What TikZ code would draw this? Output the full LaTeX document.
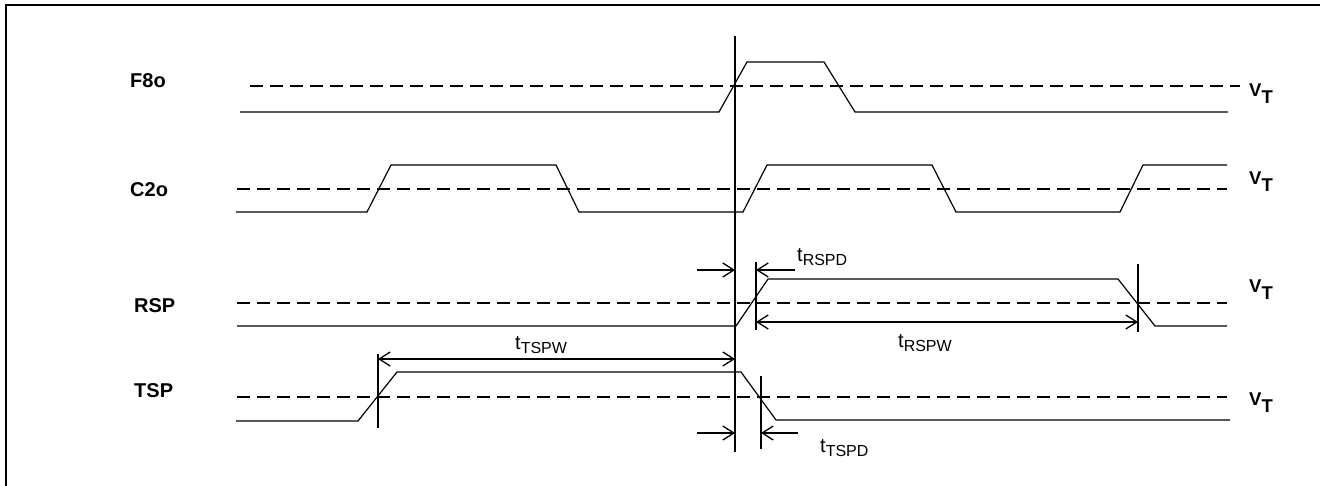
\documentclass[tikz,border=0pt]{standalone}
\usepackage{fontspec}
\setmainfont{Liberation Sans}
\usetikzlibrary{arrows.meta}
\tikzset{>={Straight Barb[length=11pt, width=14pt, line width=1.3pt]}}
\tikzstyle{signal}=[line width=1.2pt]
\tikzstyle{threshold}=[line width=1.8pt, dash pattern=on 13pt off 7pt]
\tikzstyle{marker}=[line width=1.8pt]
\tikzstyle{dimension}=[line width=1.8pt, ->]
\tikzstyle{span}=[line width=1.8pt, <->]
\tikzstyle{signal name}=[anchor=west, inner sep=0, font=\fontsize{20}{22}\selectfont\bfseries]
\tikzstyle{level name}=[anchor=base west, inner sep=0, font=\fontsize{18.5}{20}\selectfont\bfseries]
\tikzstyle{timing}=[anchor=base west, inner sep=0, font=\fontsize{20}{22}\selectfont]
\newcommand{\vth}{V\raisebox{-7pt}{T}}
\newcommand{\tsub}[1]{t\raisebox{-4pt}{\fontsize{16}{18}\selectfont #1}}

\begin{document}
\begin{tikzpicture}[x=1pt, y=-1pt]
      \useasboundingbox (0,0) rectangle (1320,486);
      \draw[line width=2pt] (6,486) -- (6,5) -- (1320,5);

      \node[signal name] (f8o) at (130,81) {F8o};
      \node[signal name] (c2o) at (130,190) {C2o};
      \node[signal name] (rsp) at (134,306) {RSP};
      \node[signal name] (tsp) at (134,391) {TSP};

      \draw[threshold] (250,86) -- (1240,86);
      \draw[threshold] (237,189) -- (1227,189);
      \draw[threshold] (237,303) -- (1227,303);
      \draw[threshold] (237,397) -- (1227,397);

      \node[level name] (vt_f8o) at (1249,97) {\vth};
      \node[level name] (vt_c2o) at (1249,185) {\vth};
      \node[level name] (vt_rsp) at (1249,293) {\vth};
      \node[level name] (vt_tsp) at (1249,405) {\vth};

      \draw[signal] (240,112) -- (719,112) -- (747,62) -- (824,62)
        -- (855,112) -- (1228,112);
      \draw[signal] (236,212) -- (367,212) -- (391,165) -- (556,165)
        -- (579,212) -- (743,212) -- (767,165) -- (932,165)
        -- (956,212) -- (1120,212) -- (1143,165) -- (1227,165);
      \draw[signal] (237,326) -- (736,326) -- (768,279) -- (1118,279)
        -- (1155,326) -- (1227,326);
      \draw[signal] (236,421) -- (358,421) -- (397,372) -- (741,372)
        -- (776,420) -- (1230,420);

      \coordinate (ref_top) at (735,36);
      \coordinate (ref_bottom) at (735,452);
      \coordinate (rspd_top) at (756,262);
      \coordinate (rspd_bottom) at (756,330);
      \coordinate (rspw_top) at (1138,264);
      \coordinate (rspw_bottom) at (1138,332);
      \coordinate (tspw_top) at (378,354);
      \coordinate (tspw_bottom) at (378,428);
      \coordinate (tspd_top) at (761,376);
      \coordinate (tspd_bottom) at (761,449);

      \draw[marker] (ref_top) -- (ref_bottom);
      \draw[marker] (rspd_top) -- (rspd_bottom);
      \draw[marker] (rspw_top) -- (rspw_bottom);
      \draw[marker] (tspw_top) -- (tspw_bottom);
      \draw[marker] (tspd_top) -- (tspd_bottom);

      \coordinate (rspd_in) at (697,270);
      \coordinate (rspd_out) at (795,270);
      \coordinate (rspw_mid) at (900,322);
      \coordinate (tspw_mid) at (550,359);
      \coordinate (tspd_in) at (697,433);
      \coordinate (tspd_out) at (798,433);

      \draw[dimension] (rspd_in) -- (ref_top |- rspd_in);
      \draw[dimension] (rspd_out) -- (rspd_top |- rspd_out);
      \draw[span] (rspd_top |- rspw_mid) -- (rspw_top |- rspw_mid);
      \draw[span] (tspw_top |- tspw_mid) -- (ref_top |- tspw_mid);
      \draw[dimension] (tspd_in) -- (ref_top |- tspd_in);
      \draw[dimension] (tspd_out) -- (tspd_top |- tspd_out);

      \node[timing] (t_rspd) at (797,262) {\tsub{RSPD}};
      \node[timing] (t_rspw) at (898,348) {\tsub{RSPW}};
      \node[timing] (t_tspw) at (515,349) {\tsub{TSPW}};
      \node[timing] (t_tspd) at (820,452) {\tsub{TSPD}};
    \end{tikzpicture}
\end{document}
